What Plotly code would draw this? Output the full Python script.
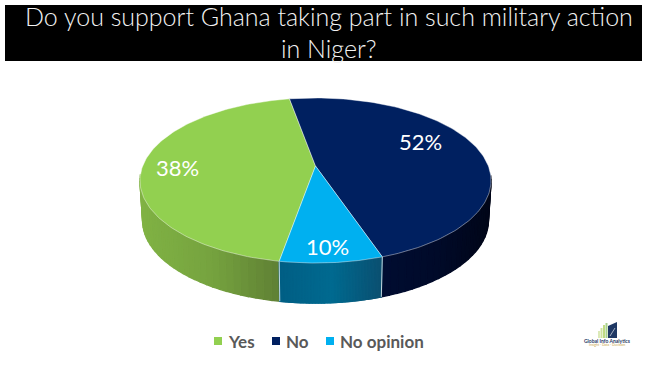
import numpy as np
import plotly.graph_objects as go

# Category data
categories = ["Yes", "No", "No opinion"]
values = [38, 52, 10]                  # printed percentages
drawn_share = [44.4, 47.6, 8.0]        # share of the circle each slice occupies in the picture
top_colors = ["#92D050", "#002060", "#00B0F0"]
wall_left = ["#80B244", "#000C30", "#005F85"]
wall_mid = ["#76A33F", "#000A28", "#006A90"]
wall_right = ["#5F8034", "#000618", "#0B4F70"]
title_lines = ["Do you support Ghana taking part in such military action", "in Niger?"]
start_angle = 260.0                    # degrees, slices run clockwise
label_pos = [(177, 167), (420, 141), (327, 246)]

W, H = 648, 365
AX, AY = 315.5, 166.0   # apex
A, B, K = 172.8, 80.0, 0.1757
DEPTH = 40.0


def rim(theta):
    u, v = np.cos(theta), np.sin(theta)
    s = 1.0 / (1.0 + K * v)
    return AX + A * u * s, AY - B * v * s


def lower(theta):
    x, y = rim(theta)
    return AX + (x - AX) * 0.985, y + DEPTH


def mix(c1, c2, t):
    a = [int(c1[i:i + 2], 16) for i in (1, 3, 5)]
    b = [int(c2[i:i + 2], 16) for i in (1, 3, 5)]
    return "#%02x%02x%02x" % tuple(round(p + (q - p) * t) for p, q in zip(a, b))


fig = go.Figure()
edges = start_angle - np.concatenate([[0], np.cumsum(drawn_share)]) * 3.6
spans = [(np.radians(edges[i]), np.radians(edges[i + 1])) for i in range(3)]

# side walls, drawn as thin strips to give the horizontal shading
for i, (a0, a1) in enumerate(spans):
    grid = np.linspace(a0, a1, 70)
    near = [(p, q) for p, q in zip(grid[:-1], grid[1:])
            if np.sin((p + q) / 2) < -0.1]
    if not near:
        continue
    xs_all = [rim(p)[0] for p, _ in near]
    lo, hi = min(xs_all), max(xs_all)
    for p, q in near:
        xm = (rim(p)[0] + rim(q)[0]) / 2
        t = (xm - lo) / (hi - lo)
        col = mix(wall_left[i], wall_mid[i], t * 2) if t < 0.5 else mix(wall_mid[i], wall_right[i], t * 2 - 1)
        x0, y0 = rim(p); x1, y1 = rim(q)
        x2, y2 = lower(q); x3, y3 = lower(p)
        fig.add_trace(go.Scatter(
            x=[x0, x1, x2, x3, x0], y=[y0, y1, y2, y3, y0], mode="lines", fill="toself",
            fillcolor=col, line=dict(color=col, width=1.4), hoverinfo="skip", showlegend=False))

# wall separators at the two front slice boundaries
for ang in (spans[1][1], spans[2][1]):
    x0, y0 = rim(ang); x1, y1 = lower(ang)
    fig.add_trace(go.Scatter(x=[x0, x1], y=[y0, y1], mode="lines",
                             line=dict(color="rgba(255,255,255,0.75)", width=1),
                             hoverinfo="skip", showlegend=False))

# top faces
for i, (a0, a1) in enumerate(spans):
    t = np.linspace(a0, a1, 140)
    x, y = rim(t)
    fig.add_trace(go.Scatter(
        x=np.r_[AX, x, AX], y=np.r_[AY, y, AY], mode="lines", fill="toself",
        fillcolor=top_colors[i], line=dict(color="rgba(255,255,255,0.6)", width=0.7),
        hoverinfo="skip", showlegend=False))

ann = [dict(x=lx, y=ly, text=f"{v}%", showarrow=False, xref="x", yref="y",
            font=dict(family="Lato", size=22, color="white"))
       for (lx, ly), v in zip(label_pos, values)]
for line, ty in zip(title_lines, (16, 48)):
    ann.append(dict(x=328.5, y=ty, text=line, showarrow=False, xref="x", yref="y",
                    font=dict(family="Lato Light, Lato", size=25, color="#F2F2F2")))
leg_sq = [(218, 341), (276, 341), (330, 341)]
leg_tx = [(226, 341), (284, 341), (338, 341)]
for (sx, sy), (tx, ty), c, name in zip(leg_sq, leg_tx, top_colors, categories):
    fig.add_trace(go.Scatter(x=[sx], y=[sy], mode="markers", hoverinfo="skip", showlegend=False,
                             marker=dict(symbol="square", size=8, color=c)))
    ann.append(dict(x=tx, y=ty, text=f"<b>{name}</b>", showarrow=False, xanchor="left",
                    font=dict(family="Lato", size=17, color="#595959")))
ann.append(dict(x=607, y=341, text="<b>Global Info Analytics</b>", showarrow=False,
                font=dict(family="Lato", size=5, color="#1F3864")))
ann.append(dict(x=607, y=344.5, text="Insight · Data · Decision", showarrow=False,
                font=dict(family="Lato", size=3.5, color="#C9A64B")))

shapes = [dict(type="rect", x0=5, x1=642, y0=5, y1=61, fillcolor="black", line_width=0, layer="below")]
for x0, c, top in [(598, "#DCE9B8", 331), (600.5, "#CFE3A0", 328), (603, "#BFDB84", 325), (605.5, "#A9D18E", 323)]:
    shapes.append(dict(type="rect", x0=x0, x1=x0 + 2, y0=top, y1=338, fillcolor=c, line_width=0))
shapes.append(dict(type="path", path="M 608 326 L 617 322 L 617 338 L 608 338 Z", fillcolor="#1F3864", line_width=0))
shapes.append(dict(type="line", x0=610, y0=336, x1=615, y1=328, line=dict(color="white", width=0.6)))

fig.update_layout(
    width=W, height=H, margin=dict(l=0, r=0, t=0, b=0), paper_bgcolor="white", plot_bgcolor="white",
    xaxis=dict(range=[0, W], visible=False, fixedrange=True),
    yaxis=dict(range=[H, 0], visible=False, fixedrange=True),
    showlegend=False, annotations=ann, shapes=shapes)
fig.write_html("out.html", config={"displayModeBar": False},
               post_script="document.body.style.margin='0';document.body.style.overflow='hidden';")
